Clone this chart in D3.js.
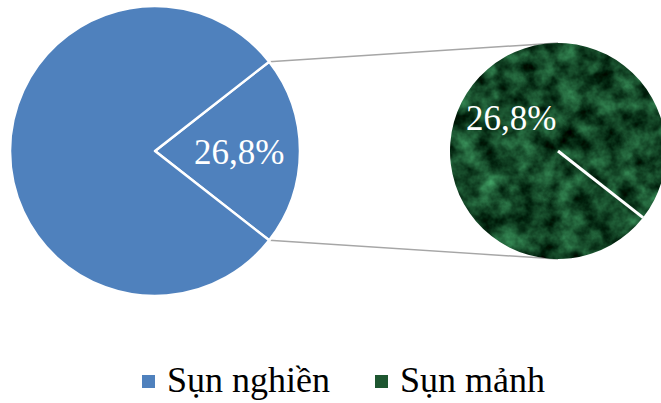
<!DOCTYPE html>
<html>
<head>
<meta charset="utf-8">
<script src="https://cdn.jsdelivr.net/npm/d3@7"></script>
<style>
  body { margin: 0; background: #fff; }
  svg { display: block; font-family: "Times New Roman", "Liberation Serif", serif; }
</style>
</head>
<body>
<svg id="chart" width="661" height="403"></svg>
<script>
// data (values shown with a "%" number format)
const categories = ["Sụn nghiền", "Sụn mảnh"]
const values = [100, 26.8]
const secondaryValues = [26.8]
const colors = ["#4f81bd", "#1d5630"]

const svg = d3.select("#chart")
const fr = d3.formatLocale({ decimal: ",", thousands: ".", grouping: [3], currency: ["", ""] })
const fmt = (v) => fr.format(".1f")(v) + "%"

// marble-like green texture for the "Sụn mảnh" part
const defs = svg.append("defs")
const marble = defs.append("filter").attr("id", "marble")
  .attr("color-interpolation-filters", "sRGB")
  .attr("x", "-5%").attr("y", "-5%").attr("width", "110%").attr("height", "110%")
marble.append("feTurbulence")
  .attr("type", "fractalNoise").attr("baseFrequency", 0.05)
  .attr("numOctaves", 4).attr("seed", 7).attr("result", "noise")
marble.append("feColorMatrix").attr("in", "noise").attr("type", "matrix")
  .attr("values", "0.4 0 0 0 -0.12  0.8 0 0 0 -0.12  0.55 0 0 0 -0.12  0 0 0 0 1")
  .attr("result", "green")
marble.append("feComposite").attr("in", "green").attr("in2", "SourceGraphic").attr("operator", "in")

// main pie geometry
const main = { cx: 155, cy: 151, r: 145 }
const second = { cx: 558, cy: 151, r: 108 }

const total = d3.sum(values)
const otherAngle = 2 * Math.PI * values[1] / total
const startAngle = Math.PI / 2 - otherAngle / 2

// other slice first, so it sits on the right side
const pieData = d3.pie().sort(null)
  .startAngle(startAngle).endAngle(startAngle + 2 * Math.PI)
  .value((d) => d.value)([
    { name: categories[1], value: values[1] },
    { name: categories[0], value: values[0] },
  ])

const arcMain = d3.arc().innerRadius(0).outerRadius(main.r)
const pt = (c, r, a) => [c.cx + r * Math.sin(a), c.cy - r * Math.cos(a)]

// connector lines, drawn first so the pies cover their ends
const connectors = [
  [pt(main, main.r, pieData[0].startAngle), pt(second, second.r, 0)],
  [pt(main, main.r, pieData[0].endAngle), pt(second, second.r, Math.PI)],
]
svg.append("g").selectAll("line").data(connectors).join("line")
  .attr("x1", (d) => d[0][0]).attr("y1", (d) => d[0][1])
  .attr("x2", (d) => d[1][0]).attr("y2", (d) => d[1][1])
  .attr("stroke", "#a6a6a6").attr("stroke-width", 1.5)

const gMain = svg.append("g").attr("transform", `translate(${main.cx},${main.cy})`)
gMain.selectAll("path").data(pieData).join("path")
  .attr("d", arcMain)
  .attr("fill", colors[0])
  .attr("stroke", "#fff").attr("stroke-width", 2.5).attr("stroke-linejoin", "round")

const labelArcMain = d3.arc().innerRadius(main.r * 0.58).outerRadius(main.r * 0.58)
gMain.append("text")
  .attr("transform", `translate(${labelArcMain.centroid(pieData[0])})`)
  .attr("dy", "0.38em").attr("text-anchor", "middle")
  .attr("fill", "#fff").attr("font-size", 35)
  .text(fmt(values[1]))

// secondary pie: a single slice starting at the lower edge of the wedge
const secStart = Math.PI / 2 + otherAngle / 2
const secData = d3.pie().sort(null)
  .startAngle(secStart).endAngle(secStart + 2 * Math.PI)(secondaryValues)
const gSec = svg.append("g").attr("transform", `translate(${second.cx},${second.cy})`)
gSec.selectAll("path").data(secData).join("path")
  .attr("d", d3.arc().innerRadius(0).outerRadius(second.r))
  .attr("fill", colors[1])
  .attr("filter", "url(#marble)")
gSec.selectAll("line").data(secData).join("line")
  .attr("x1", 0).attr("y1", 0)
  .attr("x2", (d) => second.r * Math.sin(d.startAngle))
  .attr("y2", (d) => -second.r * Math.cos(d.startAngle))
  .attr("stroke", "#fff").attr("stroke-width", 3)

const labelArcSec = d3.arc().innerRadius(second.r * 0.55).outerRadius(second.r * 0.55)
gSec.selectAll("text").data(secData).join("text")
  .attr("transform", (d) => `translate(${labelArcSec.centroid(d)})`)
  .attr("dy", "0.45em").attr("text-anchor", "middle")
  .attr("fill", "#fff").attr("font-size", 35)
  .text((d) => fmt(d.value))

// legend
const legendX = [142, 375]
const legend = svg.append("g").selectAll("g").data(categories).join("g")
  .attr("transform", (d, i) => `translate(${legendX[i]},0)`)
legend.append("rect")
  .attr("x", 0).attr("y", 375).attr("width", 13).attr("height", 13)
  .attr("fill", (d, i) => colors[i])
legend.append("text")
  .attr("x", 25).attr("y", 392)
  .attr("font-size", 36).attr("fill", "#000")
  .text((d) => d)
</script>
</body>
</html>
